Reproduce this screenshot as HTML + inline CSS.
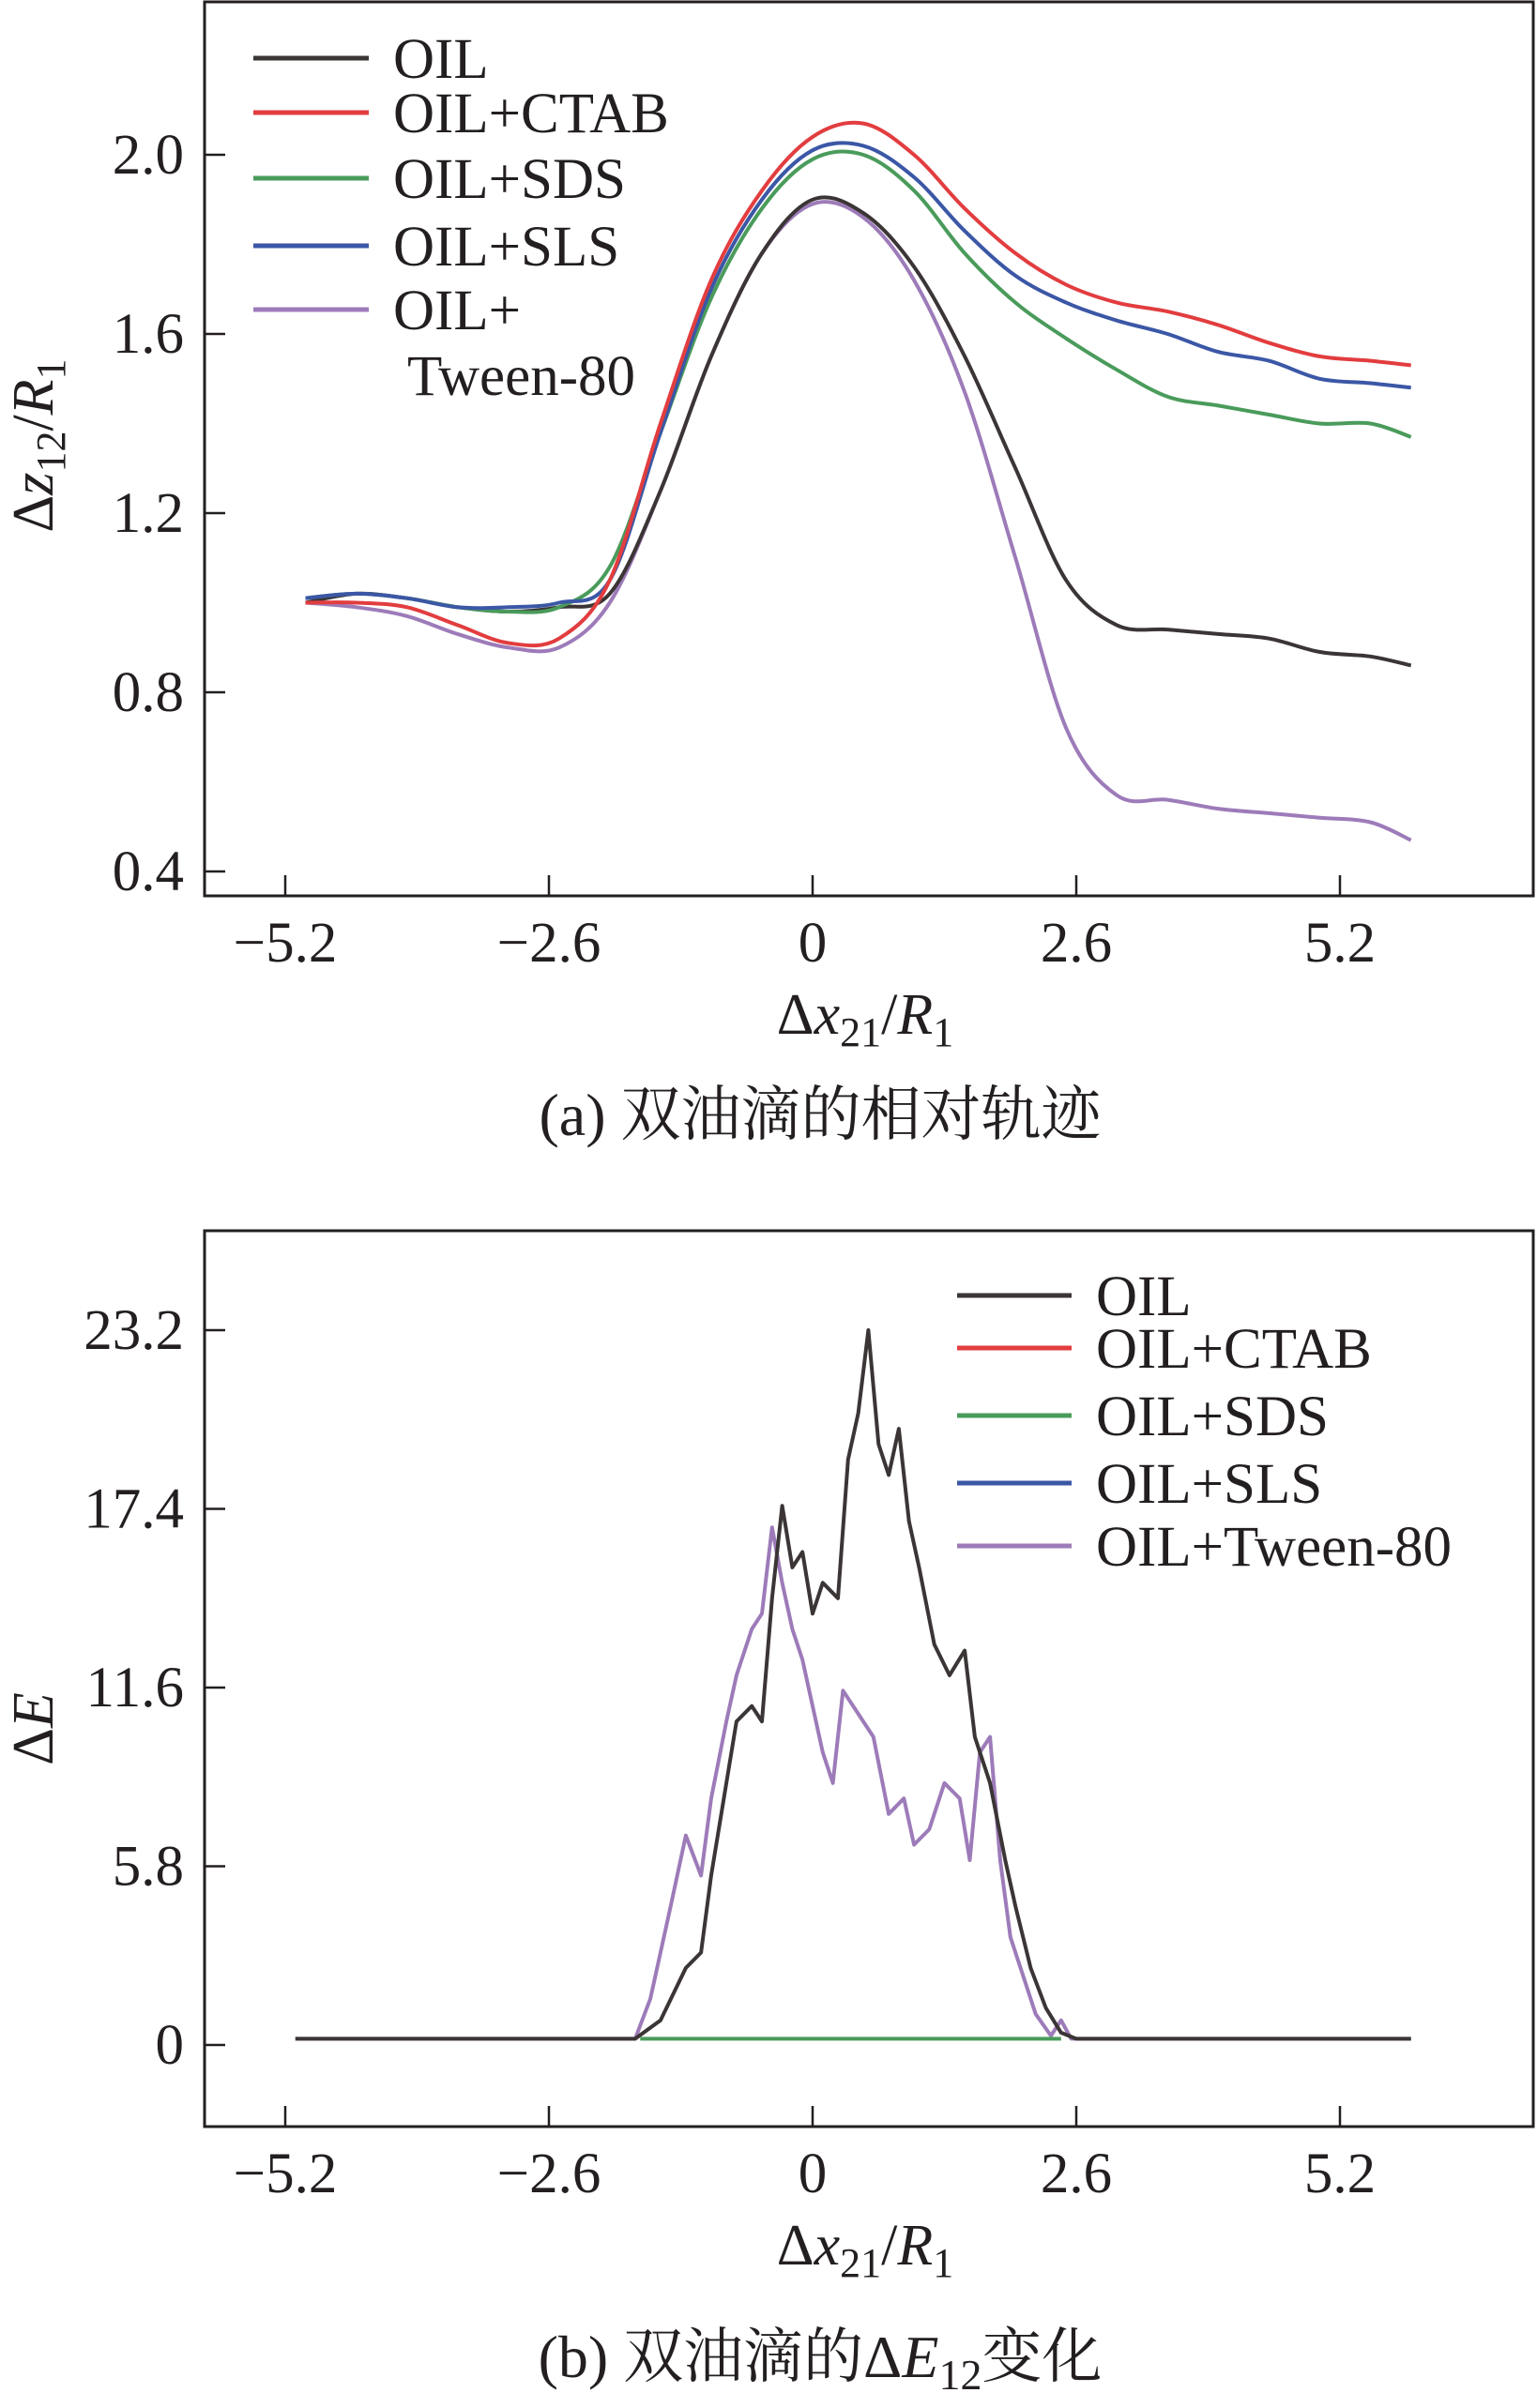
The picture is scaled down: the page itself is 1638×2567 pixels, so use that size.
<!DOCTYPE html>
<html><head><meta charset="utf-8"><style>
html,body{margin:0;padding:0;background:#fff}
svg{display:block}
text{font-family:"Liberation Serif","Noto Serif CJK SC",serif;fill:#231f20}
</style></head><body>
<svg id="fig" width="1638" height="2567" viewBox="0 0 1638 2567" xmlns="http://www.w3.org/2000/svg"></svg>
<script>
// ---- data: panel (a) relative trajectory ----
const xA = [-5.0,-4.5,-4.0,-3.5,-3.0,-2.5,-2.0,-1.5,-1.0,-0.5,0,0.5,1.0,1.5,2.0,2.5,3.0,3.5,4.0,4.5,5.0,5.5,5.9];
const oilA   = [1.0,1.02,1.01,0.99,0.98,0.99,1.02,1.25,1.55,1.78,1.90,1.87,1.75,1.55,1.30,1.05,0.95,0.94,0.93,0.92,0.89,0.88,0.86];
const ctabA  = [1.0,1.0,0.99,0.95,0.91,0.92,1.05,1.40,1.72,1.92,2.04,2.07,2.0,1.88,1.78,1.71,1.67,1.65,1.62,1.58,1.55,1.54,1.53];
const sdsA   = [1.01,1.02,1.01,0.99,0.98,0.99,1.08,1.38,1.68,1.88,1.99,2.0,1.92,1.78,1.67,1.59,1.52,1.46,1.44,1.42,1.40,1.40,1.37];
const slsA   = [1.01,1.02,1.01,0.99,0.99,1.0,1.05,1.38,1.70,1.90,2.01,2.02,1.95,1.83,1.73,1.67,1.63,1.60,1.56,1.54,1.50,1.49,1.48];
const tweenA = [1.0,0.99,0.97,0.93,0.90,0.90,1.0,1.25,1.55,1.78,1.89,1.86,1.72,1.47,1.10,0.72,0.57,0.56,0.54,0.53,0.52,0.51,0.47];
const yTicksA = [2.0,1.6,1.2,0.8,0.4];
const yTickLabelsA = ["2.0","1.6","1.2","0.8","0.4"];
const xTicks = [-5.2,-2.6,0,2.6,5.2];
const xTickLabels = ["\u22125.2","\u22122.6","0","2.6","5.2"];
// ---- data: panel (b) energy change ----
const xOilB = [-5.1,-1.75,-1.5,-1.25,-1.1,-1.0,-0.85,-0.75,-0.6,-0.5,-0.4,-0.3,-0.2,-0.1,0,0.1,0.25,0.35,0.45,0.55,0.65,0.75,0.85,0.95,1.05,1.2,1.35,1.5,1.6,1.75,1.9,2.0,2.15,2.3,2.45,2.6,5.9];
const oilB  = [0.2,0.2,0.8,2.5,3.0,5.5,8.5,10.5,11.0,10.5,14.5,17.5,15.5,16.0,14.0,15.0,14.5,19.0,20.5,23.2,19.5,18.5,20.0,17.0,15.5,13.0,12.0,12.8,10.0,8.5,6.0,4.5,2.5,1.2,0.4,0.2,0.2];
const xTwB = [-5.1,-1.75,-1.6,-1.5,-1.4,-1.25,-1.1,-1.0,-0.85,-0.75,-0.6,-0.5,-0.4,-0.3,-0.2,-0.1,0,0.1,0.2,0.3,0.4,0.5,0.6,0.75,0.9,1.0,1.15,1.3,1.45,1.55,1.65,1.75,1.85,1.95,2.05,2.2,2.35,2.45,2.55,5.9];
const tweenB = [0.2,0.2,1.5,3.0,4.5,6.8,5.5,8.0,10.5,12.0,13.5,14.0,16.8,15.0,13.5,12.5,11.0,9.5,8.5,11.5,11.0,10.5,10.0,7.5,8.0,6.5,7.0,8.5,8.0,6.0,9.5,10.0,6.0,3.5,2.5,1.0,0.3,0.8,0.2,0.2];
const xSdsB = [-1.7,2.45];
const sdsB = [0.2,0.2];
const yTicksB = [23.2,17.4,11.6,5.8,0];
const yTickLabelsB = ["23.2","17.4","11.6","5.8","0"];
const legendLabels = ["OIL","OIL+CTAB","OIL+SDS","OIL+SLS","OIL+Tween-80"];
const colors = ["#3b3535","#e23d3f","#4a9b5b","#3b57a6","#9d7bb9"];

const NS="http://www.w3.org/2000/svg";
const svg=document.getElementById('fig');
function mk(tag,attrs,parent,txt){const e=document.createElementNS(NS,tag);for(const k in attrs)e.setAttribute(k,attrs[k]);if(txt!==undefined)e.textContent=txt;(parent||svg).appendChild(e);return e;}

const sx = v => 866 + (v/2.6)*281;
const syA = v => 165 + (2.0-v)/0.4*191;
const syB = v => 2180 - v/5.8*190.5;
const FS = 61;

function panel(top,bottom,name,yt,ytl,sy){
  const g=mk('g',{});
  
  
  const f=mk('rect',{x:218,y:top,width:1416,height:bottom-top,fill:'none',stroke:'#231f20','stroke-width':3},g);
  
  
  yt.forEach((v,i)=>{
    const y=sy(v);
    const t=mk('line',{x1:218,x2:240,y1:y,y2:y,stroke:'#231f20','stroke-width':2.5},g);
    
    
    const l=mk('text',{x:196,y:y+20,'text-anchor':'end','font-size':FS},g,ytl[i]);
    
    
  });
  xTicks.forEach((v,i)=>{
    const x=sx(v);
    const t=mk('line',{x1:x,x2:x,y1:bottom,y2:bottom-22,stroke:'#231f20','stroke-width':2.5},g);
    
    
    const l=mk('text',{x:x,y:bottom+70,'text-anchor':'middle','font-size':FS},g,xTickLabels[i]);
    
    
  });
  const xt=mk('text',{x:922,y:bottom+147,'text-anchor':'middle','font-size':62},g);
  
  
  xt.innerHTML='Δ<tspan font-style="italic">x</tspan><tspan font-size="44" dy="13">21</tspan><tspan dy="-13">/</tspan><tspan font-style="italic">R</tspan><tspan font-size="44" dy="13">1</tspan>';
  return g;
}
function smoothPath(xs,ys,sy){
  const P=xs.map((x,i)=>[sx(x),sy(ys[i])]);
  let d='M'+P[0][0].toFixed(1)+','+P[0][1].toFixed(1);
  for(let i=0;i<P.length-1;i++){
    const p0=P[i-1]||P[i],p1=P[i],p2=P[i+1],p3=P[i+2]||P[i+1];
    const c1=[p1[0]+(p2[0]-p0[0])/6,p1[1]+(p2[1]-p0[1])/6];
    const c2=[p2[0]-(p3[0]-p1[0])/6,p2[1]-(p3[1]-p1[1])/6];
    d+=' C'+c1.map(v=>v.toFixed(1)).join(',')+' '+c2.map(v=>v.toFixed(1)).join(',')+' '+p2.map(v=>v.toFixed(1)).join(',');
  }
  return d;
}
function line(g,xs,ys,sy,color,name,smooth){
  const d=smooth?smoothPath(xs,ys,sy):xs.map((x,i)=>(i?'L':'M')+sx(x).toFixed(1)+','+sy(ys[i]).toFixed(1)).join(' ');
  const p=mk('path',{d:d,fill:'none',stroke:color,'stroke-width':4,'stroke-linejoin':'round'},g);
  
  
}

// Panel A
const gA=panel(2,955,'trajectory-chart',yTicksA,yTickLabelsA,syA);
line(gA,xA,tweenA,syA,colors[4],'series-tween80',true);
line(gA,xA,oilA,syA,colors[0],'series-oil',true);
line(gA,xA,sdsA,syA,colors[2],'series-sds',true);
line(gA,xA,slsA,syA,colors[3],'series-sls',true);
line(gA,xA,ctabA,syA,colors[1],'series-ctab',true);
const ytA=mk('text',{transform:'translate(56,475) rotate(-90)','text-anchor':'middle','font-size':62},gA);


ytA.innerHTML='Δ<tspan font-style="italic">z</tspan><tspan font-size="44" dy="13">12</tspan><tspan dy="-13">/</tspan><tspan font-style="italic">R</tspan><tspan font-size="44" dy="13">1</tspan>';
const legA=[62,120,190,262,330];
const labA=["OIL","OIL+CTAB","OIL+SDS","OIL+SLS","OIL+"];
legA.forEach((y,i)=>{
  const l=mk('line',{x1:270,x2:393,y1:y,y2:y,stroke:colors[i],'stroke-width':5},gA);
  
  
  const t=mk('text',{x:419,y:y+21,'font-size':FS},gA,labA[i]);
  
  
});
const tw=mk('text',{x:434,y:421,'font-size':FS},gA,'Tween-80');


const capA=mk('text',{x:874,y:1210,'text-anchor':'middle','font-size':64},gA,'(a) 双油滴的相对轨迹');



// Panel B
const gB=panel(1312,2267,'energy-chart',yTicksB,yTickLabelsB,syB);
line(gB,xTwB,tweenB,syB,colors[4],'series-tween80',false);
line(gB,xOilB,oilB,syB,colors[0],'series-oil',false);
line(gB,xSdsB,sdsB,syB,colors[2],'series-sds',false);
const ytB=mk('text',{transform:'translate(56,1843) rotate(-90)','text-anchor':'middle','font-size':62},gB);


ytB.innerHTML='Δ<tspan font-style="italic">E</tspan>';
const legB=[1381,1437,1509,1581,1648];
legB.forEach((y,i)=>{
  const l=mk('line',{x1:1020,x2:1142,y1:y,y2:y,stroke:colors[i],'stroke-width':5},gB);
  
  
  const t=mk('text',{x:1168,y:y+21,'font-size':FS},gB,legendLabels[i]);
  
  
});
const capB=mk('text',{x:874,y:2534,'text-anchor':'middle','font-size':64},gB);


capB.innerHTML='(b) 双油滴的Δ<tspan font-style="italic">E</tspan><tspan font-size="46" dy="13">12</tspan><tspan dy="-13">变化</tspan>';
</script>
</body></html>
